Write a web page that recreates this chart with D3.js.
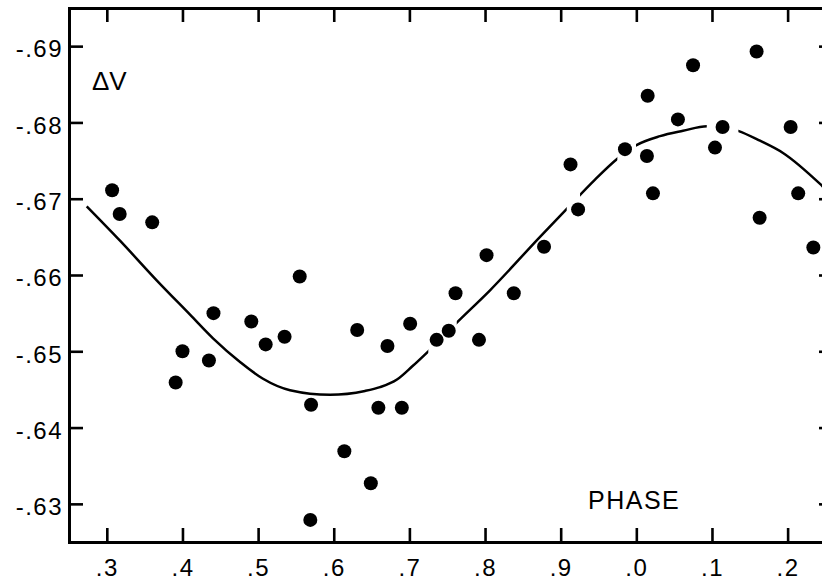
<!DOCTYPE html>
<html>
<head>
<meta charset="utf-8">
<script src="https://cdn.jsdelivr.net/npm/d3@7"></script>
<style>
  html, body { margin: 0; padding: 0; background: #fff; }
  svg { display: block; }
</style>
</head>
<body>
<div></div>
<script>
// observed points (phase, delta V)
const dotPhase = [0.307, 0.317, 0.360, 0.391, 0.400, 0.435, 0.441, 0.491, 0.510, 0.535,
                  0.555, 0.570, 0.569, 0.614, 0.631, 0.649, 0.659, 0.671, 0.690, 0.701,
                  0.736, 0.752, 0.761, 0.792, 0.802, 0.838, 0.878, 0.913, 0.923, 0.985,
                  1.014, 1.015, 1.022, 1.055, 1.075, 1.104, 1.114, 1.159, 1.163, 1.204,
                  1.214, 1.234];
const dotDV = [-0.6711, -0.6680, -0.6669, -0.6459, -0.6500, -0.6488, -0.6550, -0.6539, -0.6509, -0.6519,
               -0.6598, -0.6430, -0.6279, -0.6369, -0.6528, -0.6327, -0.6426, -0.6507, -0.6426, -0.6536,
               -0.6515, -0.6527, -0.6576, -0.6515, -0.6626, -0.6576, -0.6637, -0.6745, -0.6686, -0.6765,
               -0.6756, -0.6835, -0.6707, -0.6804, -0.6875, -0.6767, -0.6794, -0.6893, -0.6675, -0.6794,
               -0.6707, -0.6636];

// fitted light curve
const curvePhase = [0.2734, 0.3174, 0.3659, 0.4100, 0.4404, 0.4761, 0.5065, 0.5422, 0.5951, 0.6413,
                    0.6612, 0.6836, 0.7035, 0.7250, 0.7630, 0.8066, 0.8727, 0.9084, 0.9454, 0.9745,
                    0.9996, 1.0313, 1.0617, 1.0935, 1.1107, 1.1345, 1.1635, 1.1939, 1.2455, 1.2693];
const curveDV = [-0.6690, -0.6645, -0.6593, -0.6548, -0.6517, -0.6486, -0.6464, -0.6449, -0.6443, -0.6448,
                 -0.6453, -0.6463, -0.6480, -0.6500, -0.6538, -0.6580, -0.6650, -0.6687, -0.6725, -0.6752,
                 -0.6770, -0.6782, -0.6789, -0.6795, -0.6795, -0.6789, -0.6776, -0.6760, -0.6717, -0.6694];
// places where the curve is broken off next to a dot
const curveGaps = [[0.7250, 0.7626], [0.9080, 0.9256], [0.9749, 0.9996], [1.0931, 1.1349]];

const phaseTicks = [0.3, 0.4, 0.5, 0.6, 0.7, 0.8, 0.9, 1.0, 1.1, 1.2];
const phaseLabels = ['.3', '.4', '.5', '.6', '.7', '.8', '.9', '.0', '.1', '.2'];
const dvTicks = [-0.69, -0.68, -0.67, -0.66, -0.65, -0.64, -0.63];
const dvLabels = ['-.69', '-.68', '-.67', '-.66', '-.65', '-.64', '-.63'];

const svgWidth = 822,
    svgHeight = 583,
    font = "'Liberation Sans', Arial, Helvetica, sans-serif";

const svg = d3.select('body')
                .select('div')
                .append('svg')
                .attr('width', svgWidth)
                .attr('height', svgHeight)
                .style('background', '#fff');

const xScale = d3.scaleLinear()
                .domain([0.25, 1.26])
                .range([69, 833]);

const yScale = d3.scaleLinear()
                .domain([-0.625, -0.695])
                .range([542, 8]);

const styleAxis = (g) => {
    g.attr('font-family', font)
        .attr('font-size', 24);
    g.select('.domain')
        .attr('stroke', '#000')
        .attr('stroke-width', 3)
        .attr('stroke-linecap', 'square');
    g.selectAll('.tick line')
        .attr('stroke', '#000')
        .attr('stroke-width', 2.6);
    g.selectAll('.tick text')
        .attr('fill', '#000')
        .style('letter-spacing', '1.5px');
};

const xAxis = d3.axisBottom(xScale)
                .tickValues(phaseTicks)
                .tickFormat(d => phaseLabels[phaseTicks.indexOf(d)])
                .tickSizeInner(-14)
                .tickSizeOuter(0)
                .tickPadding(17);

const xAxisTop = d3.axisTop(xScale)
                .tickValues(phaseTicks)
                .tickFormat('')
                .tickSizeInner(-14)
                .tickSizeOuter(0);

const yAxis = d3.axisLeft(yScale)
                .tickValues(dvTicks)
                .tickFormat(d => dvLabels[dvTicks.indexOf(d)])
                .tickSizeInner(-14)
                .tickSizeOuter(0)
                .tickPadding(6);

const yAxisRight = d3.axisRight(yScale)
                .tickValues(dvTicks)
                .tickFormat('')
                .tickSizeInner(-14)
                .tickSizeOuter(0);

svg.append('g')
    .attr('id', 'x-axis')
    .attr('transform', `translate(0, ${yScale.range()[0]})`)
    .call(xAxis)
    .call(styleAxis);

svg.append('g')
    .attr('id', 'x-axis-top')
    .attr('transform', `translate(0, ${yScale.range()[1]})`)
    .call(xAxisTop)
    .call(styleAxis);

svg.append('g')
    .attr('id', 'y-axis')
    .attr('transform', `translate(${xScale.range()[0]}, 0)`)
    .call(yAxis)
    .call(styleAxis)
    .selectAll('.tick text')
    .attr('dy', '0.45em');

svg.append('g')
    .attr('id', 'y-axis-right')
    .attr('transform', `translate(${xScale.range()[1]}, 0)`)
    .call(yAxisRight)
    .call(styleAxis);

// clip out the gaps: keep only the phase ranges between them
const keep = [];
let from = xScale.domain()[0];
curveGaps.forEach(g => { keep.push([from, g[0]]); from = g[1]; });
keep.push([from, xScale.domain()[1]]);

svg.append('clipPath')
    .attr('id', 'curve-clip')
    .selectAll('rect')
    .data(keep)
    .enter()
    .append('rect')
    .attr('x', d => xScale(d[0]))
    .attr('width', d => xScale(d[1]) - xScale(d[0]))
    .attr('y', yScale.range()[1])
    .attr('height', yScale.range()[0] - yScale.range()[1]);

const line = d3.line()
                .x(d => xScale(d[0]))
                .y(d => yScale(d[1]))
                .curve(d3.curveMonotoneX);

svg.append('path')
    .attr('id', 'curve')
    .datum(curvePhase.map((p, i) => [p, curveDV[i]]))
    .attr('d', line)
    .attr('clip-path', 'url(#curve-clip)')
    .attr('fill', 'none')
    .attr('stroke', '#000')
    .attr('stroke-width', 2.5);

svg.append('g')
    .attr('id', 'dots')
    .selectAll('circle')
    .data(dotPhase.map((p, i) => [p, dotDV[i]]))
    .enter()
    .append('circle')
    .attr('cx', d => xScale(d[0]))
    .attr('cy', d => yScale(d[1]))
    .attr('r', 7)
    .attr('fill', '#000');

svg.append('text')
    .attr('x', 92)
    .attr('y', 90)
    .attr('font-family', font)
    .attr('font-size', 26)
    .text('ΔV');

svg.append('text')
    .attr('x', 588)
    .attr('y', 509)
    .attr('font-family', font)
    .attr('font-size', 25)
    .style('letter-spacing', '1.5px')
    .text('PHASE');
</script>
</body>
</html>
